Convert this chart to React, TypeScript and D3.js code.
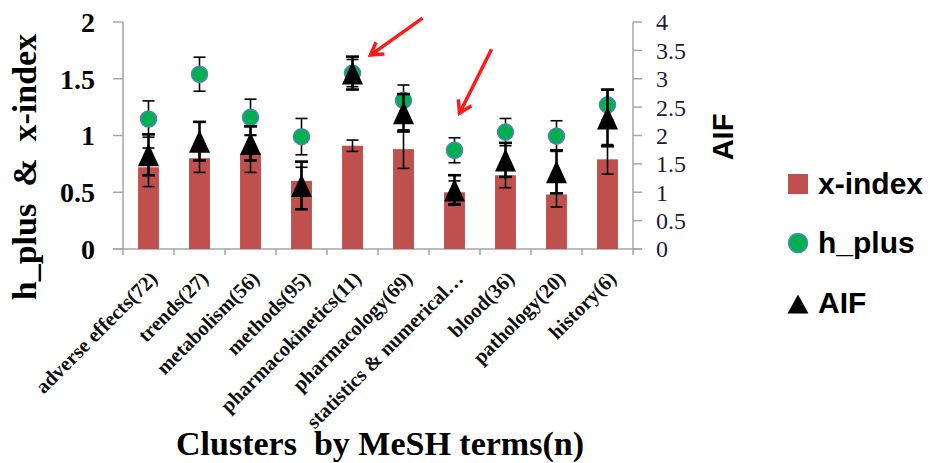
import { useEffect, useRef } from 'react'
import * as d3 from 'd3'

const categories = [
  'adverse effects(72)',
  'trends(27)',
  'metabolism(56)',
  'methods(95)',
  'pharmacokinetics(11)',
  'pharmacology(69)',
  'statistics & numerical…',
  'blood(36)',
  'pathology(20)',
  'history(6)',
]
const xIndex = [0.72, 0.8, 0.84, 0.6, 0.91, 0.88, 0.5, 0.65, 0.48, 0.79]
const xIndexErr = [0.17, 0.125, 0.165, 0.12, 0.05, 0.17, 0.1, 0.11, 0.11, 0.13]
const hPlus = [1.145, 1.54, 1.16, 0.99, 1.55, 1.31, 0.87, 1.03, 0.995, 1.27]
const hPlusErr = [0.16, 0.15, 0.16, 0.16, 0.12, 0.135, 0.11, 0.12, 0.135, 0.13]
const aif = [1.66, 1.9, 1.86, 1.12, 3.1, 2.4, 1.04, 1.57, 1.36, 2.31]
const aifErr = [0.36, 0.34, 0.3, 0.42, 0.29, 0.33, 0.26, 0.3, 0.38, 0.5]
const leftTicks = [0, 0.5, 1, 1.5, 2]
const rightTicks = [0, 0.5, 1, 1.5, 2, 2.5, 3, 3.5, 4]
// which points the red arrows highlight
const arrowTargets = [4, 6]

const BAR = '#C0504D'
const GREEN = '#00B050'
const SERIF = '"Liberation Serif", "Times New Roman", serif'
const SANS = '"Liberation Sans", Arial, sans-serif'

export default function App() {
  const svgRef = useRef<SVGSVGElement | null>(null)
  const width = 935
  const height = 463

  useEffect(() => {
    const svg = d3.select(svgRef.current)
    svg.selectAll('*').remove()

    const margin = { top: 22, left: 123, right: 302, bottom: 214 }
    const x0 = margin.left
    const x1 = width - margin.right
    const yTop = margin.top
    const yBot = height - margin.bottom

    const x = d3.scaleBand().domain(categories).range([x0, x1])
    const yL = d3.scaleLinear().domain([0, 2]).range([yBot, yTop])
    const yR = d3.scaleLinear().domain([0, 4]).range([yBot, yTop])
    const cx = (i: number) => (x(categories[i]) as number) + x.bandwidth() / 2

    svg.append('rect').attr('width', width).attr('height', height).attr('fill', '#fff')

    // axes
    const axisColor = '#a6a6a6'
    svg.append('line').attr('x1', x0).attr('x2', x0).attr('y1', yTop).attr('y2', yBot)
      .attr('stroke', axisColor).attr('stroke-width', 1.5)
    svg.append('line').attr('x1', x1).attr('x2', x1).attr('y1', yTop).attr('y2', yBot)
      .attr('stroke', axisColor).attr('stroke-width', 1.5)
    svg.append('line').attr('x1', x0 - 10).attr('x2', x1 + 9).attr('y1', yBot).attr('y2', yBot)
      .attr('stroke', axisColor).attr('stroke-width', 1.5)

    leftTicks.forEach(t => {
      svg.append('line').attr('x1', x0 - 10).attr('x2', x0).attr('y1', yL(t)).attr('y2', yL(t))
        .attr('stroke', axisColor).attr('stroke-width', 1.5)
      svg.append('text').attr('x', x0 - 28).attr('y', yL(t)).attr('dy', '0.35em')
        .attr('text-anchor', 'end').attr('font-family', SERIF).attr('font-weight', 'bold')
        .attr('font-size', 28).attr('fill', '#000').text(String(t))
    })
    rightTicks.forEach(t => {
      svg.append('line').attr('x1', x1).attr('x2', x1 + 9).attr('y1', yR(t)).attr('y2', yR(t))
        .attr('stroke', axisColor).attr('stroke-width', 1.5)
      svg.append('text').attr('x', x1 + 23).attr('y', yR(t)).attr('dy', '0.35em')
        .attr('text-anchor', 'start').attr('font-family', SERIF)
        .attr('font-size', 24).attr('fill', '#1c1c3a').text(String(t))
    })
    d3.range(categories.length + 1).forEach(i => {
      const tx = x0 + i * x.bandwidth()
      svg.append('line').attr('x1', tx).attr('x2', tx).attr('y1', yBot).attr('y2', yBot + 6)
        .attr('stroke', axisColor).attr('stroke-width', 1.5)
    })

    categories.forEach((c, i) => {
      svg.append('text')
        .attr('transform', `translate(${cx(i) + 10},${yBot + 31}) rotate(-45)`)
        .attr('text-anchor', 'end').attr('font-family', SERIF).attr('font-weight', 'bold')
        .attr('font-size', 20.5).attr('fill', '#111').text(c)
    })

    // titles
    svg.append('text').attr('transform', `translate(36,167) rotate(-90)`)
      .attr('text-anchor', 'middle').attr('font-family', SERIF).attr('font-weight', 'bold')
      .attr('font-size', 34).style('white-space', 'pre').text('h_plus  &  x-index')
    svg.append('text').attr('x', 380).attr('y', 455)
      .attr('text-anchor', 'middle').attr('font-family', SERIF).attr('font-weight', 'bold')
      .attr('font-size', 34).style('white-space', 'pre').text('Clusters  by MeSH terms(n)')
    svg.append('text').attr('transform', `translate(733,137) rotate(-90)`)
      .attr('text-anchor', 'middle').attr('font-family', SANS).attr('font-weight', 'bold')
      .attr('font-size', 29).text('AIF')

    const errBar = (px: number, lo: number, hi: number, cap: number, sw: number) => {
      svg.append('line').attr('x1', px).attr('x2', px).attr('y1', lo).attr('y2', hi)
        .attr('stroke', '#000').attr('stroke-width', sw)
      ;[lo, hi].forEach(yy => {
        svg.append('line').attr('x1', px - cap / 2).attr('x2', px + cap / 2).attr('y1', yy).attr('y2', yy)
          .attr('stroke', '#000').attr('stroke-width', sw)
      })
    }

    // bars
    const bw = x.bandwidth() * 0.41
    xIndex.forEach((v, i) => {
      svg.append('rect').attr('x', cx(i) - bw / 2).attr('y', yL(v))
        .attr('width', bw).attr('height', yBot - yL(v)).attr('fill', BAR)
    })
    xIndex.forEach((v, i) => errBar(cx(i), yL(v - xIndexErr[i]), yL(v + xIndexErr[i]), 12, 1.6))

    // h_plus
    hPlus.forEach((v, i) => errBar(cx(i), yL(v - hPlusErr[i]), yL(v + hPlusErr[i]), 12, 1.6))
    hPlus.forEach((v, i) => {
      svg.append('circle').attr('cx', cx(i)).attr('cy', yL(v)).attr('r', 8)
        .attr('fill', GREEN).attr('stroke', '#4F81BD').attr('stroke-width', 1.5)
    })

    // AIF
    const tri = (w: number, h: number) => `M0,${-h / 2}L${w / 2},${h / 2}L${-w / 2},${h / 2}Z`
    aif.forEach((v, i) => errBar(cx(i), yR(v - aifErr[i]), yR(v + aifErr[i]), 13, 2.6))
    aif.forEach((v, i) => {
      svg.append('path').attr('d', tri(21, 23))
        .attr('transform', `translate(${cx(i)},${yR(v)})`).attr('fill', '#000')
    })

    // red arrows
    const arrow = (tx: number, ty: number, fx: number, fy: number) => {
      const ang = Math.atan2(fy - ty, fx - tx)
      const head = 14
      const p = d3.path()
      p.moveTo(fx, fy)
      p.lineTo(tx, ty)
      p.moveTo(tx + head * Math.cos(ang - 0.55), ty + head * Math.sin(ang - 0.55))
      p.lineTo(tx, ty)
      p.lineTo(tx + head * Math.cos(ang + 0.55), ty + head * Math.sin(ang + 0.55))
      svg.append('path').attr('d', p.toString()).attr('fill', 'none')
        .attr('stroke', '#ff1a1a').attr('stroke-width', 3.5).attr('stroke-linejoin', 'miter')
    }
    arrow(cx(arrowTargets[0]) + 18, yR(aif[arrowTargets[0]]) - 18, cx(arrowTargets[0]) + 70, yR(aif[arrowTargets[0]]) - 55)
    arrow(cx(arrowTargets[1]) + 5, yL(hPlus[arrowTargets[1]]) - 37, cx(arrowTargets[1]) + 37, yL(hPlus[arrowTargets[1]]) - 101)

    // legend
    const lg = svg.append('g').attr('transform', 'translate(798,0)')
    lg.append('rect').attr('x', -10).attr('y', 174).attr('width', 20).attr('height', 20).attr('fill', BAR)
    lg.append('circle').attr('cx', 0).attr('cy', 243).attr('r', 9.5)
      .attr('fill', GREEN).attr('stroke', '#4F81BD').attr('stroke-width', 1.5)
    lg.append('path').attr('d', tri(21, 19)).attr('transform', 'translate(0,304)').attr('fill', '#000')
    ;[['x-index', 194], ['h_plus', 253], ['AIF', 313]].forEach(([t, yy]) => {
      lg.append('text').attr('x', 20).attr('y', yy as number).attr('font-family', SANS)
        .attr('font-weight', 'bold').attr('font-size', 30).attr('fill', '#000').text(t as string)
    })
  }, [])

  return (
    <svg ref={svgRef} width={width} height={height}
      style={{ position: 'absolute', left: 0, top: 0, background: '#fff' }} />
  )
}
